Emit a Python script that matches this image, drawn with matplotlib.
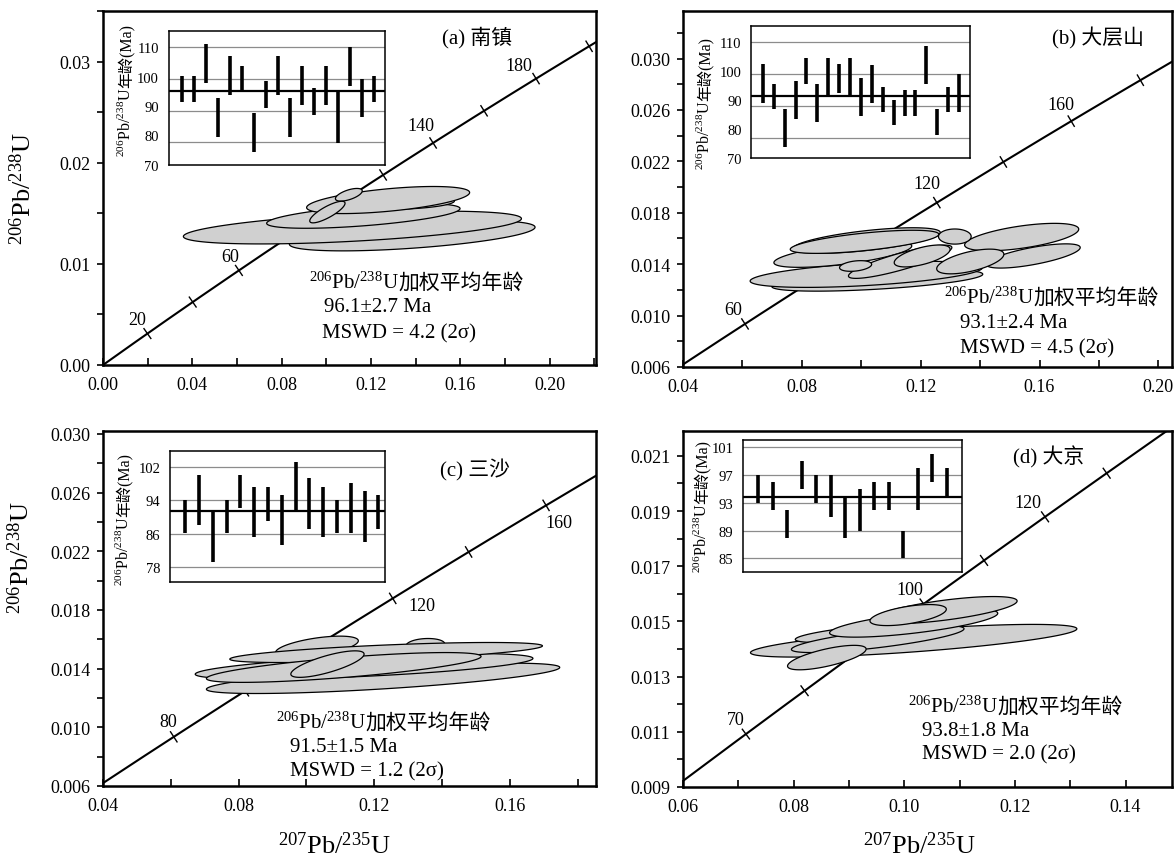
import numpy as np
import matplotlib
matplotlib.use("Agg")
import matplotlib.pyplot as plt
from matplotlib.ticker import MultipleLocator, FormatStrFormatter

plt.rcParams["font.family"] = ["Liberation Serif", "DejaVu Serif", "Noto Sans CJK SC"]
plt.rcParams["mathtext.fontset"] = "custom"
plt.rcParams["mathtext.rm"] = "Liberation Serif"
plt.rcParams["mathtext.it"] = "Liberation Serif:italic"
plt.rcParams["mathtext.bf"] = "Liberation Serif:bold"

# U decay constants (1/yr)
L238 = 1.55125e-10
L235 = 9.8485e-10

R206_238 = r"$^{206}$Pb/$^{238}$U"
R207_235 = r"$^{207}$Pb/$^{235}$U"
WM_SUFFIX = "加权平均年龄"
AGE_SUFFIX = "年龄(Ma)"

# ---------------- (a) 南镇 ----------------
a_name = "(a) 南镇"
a_mean, a_mean_err, a_mswd = 96.1, 2.7, 4.2
a_spot_age = [96.9, 96.9, 104.9, 87.9, 101.0, 100.1, 83.0, 95.0, 101.0, 87.9,
              98.0, 92.9, 98.0, 87.9, 103.9, 94.0, 96.9]
a_spot_err = [4.1, 4.1, 6.2, 6.2, 6.1, 4.1, 6.1, 4.3, 6.1, 6.2,
              6.2, 4.3, 6.2, 8.1, 6.2, 6.1, 4.1]
a_ell_x = [0.1385, 0.1117, 0.1166, 0.1295, 0.1277, 0.1101, 0.1005]
a_ell_y = [0.01278, 0.01359, 0.01474, 0.01611, 0.01631, 0.01683, 0.01512]
a_ell_sx = [0.0550, 0.0757, 0.0433, 0.0279, 0.0365, 0.0060, 0.0079]
a_ell_sy = [0.001496, 0.00162, 0.001221, 0.000745, 0.001339, 0.000626, 0.001066]
a_ell_rho = [0.565, 0.544, 0.596, 0.153, 0.554, 0.606, 0.816]
a_conc_ticks = list(range(20, 240, 20))
a_conc_label_age = [20, 60, 140, 180]
a_conc_label_text = ["20", "60", "140", "180"]

# ---------------- (b) 大层山 ----------------
b_name = "(b) 大层山"
b_mean, b_mean_err, b_mswd = 93.1, 2.4, 4.5
b_spot_age = [96.9, 93.0, 82.9, 91.9, 100.9, 90.9, 98.9, 98.6, 98.9, 92.9,
              96.9, 91.9, 87.9, 90.9, 90.9, 102.9, 84.9, 91.9, 93.9]
b_spot_err = [6.1, 4.0, 6.0, 6.0, 4.1, 6.0, 6.0, 4.6, 6.0, 6.0,
              6.0, 4.0, 4.0, 4.0, 4.0, 6.0, 4.0, 4.0, 6.0]
b_ell_x = [0.1054, 0.1017, 0.0938, 0.1018, 0.1011, 0.1540, 0.1579, 0.1367,
           0.1131, 0.1205, 0.0981, 0.1315]
b_ell_y = [0.01274, 0.01321, 0.01477, 0.01584, 0.01574, 0.01611, 0.01464, 0.01421,
           0.01419, 0.01464, 0.01386, 0.01615]
b_ell_sx = [0.0355, 0.0391, 0.0232, 0.0248, 0.0250, 0.0192, 0.0158, 0.0113,
            0.0174, 0.0094, 0.0054, 0.0055]
b_ell_sy = [0.000838, 0.001015, 0.001015, 0.000995, 0.000899, 0.001067, 0.000942,
            0.000961, 0.001294, 0.000853, 0.000414, 0.000588]
b_ell_rho = [0.575, 0.514, 0.639, 0.628, 0.650, 0.575, 0.695, 0.585,
             0.855, 0.606, 0.312, 0.0]
b_conc_ticks = list(range(20, 240, 20))
b_conc_label_age = [60, 120, 160]
b_conc_label_text = ["60", "120", "160"]

# ---------------- (c) 三沙 ----------------
c_name = "(c) 三沙"
c_mean, c_mean_err, c_mswd = 91.5, 1.5, 1.2
c_spot_age = [90.1, 94.1, 85.2, 90.1, 96.1, 91.2, 93.1, 89.2, 97.1, 93.2,
              91.2, 90.1, 92.1, 90.1, 91.2]
c_spot_err = [4.0, 6.0, 6.0, 4.0, 4.0, 6.0, 4.0, 6.0, 6.0, 6.0,
              6.0, 4.0, 6.0, 6.0, 4.0]
c_ell_x = [0.1031, 0.1351, 0.1226, 0.1170, 0.1235, 0.1110, 0.1062]
c_ell_y = [0.01550, 0.01562, 0.01334, 0.01416, 0.01510, 0.01408, 0.01431]
c_ell_sx = [0.0122, 0.0057, 0.0521, 0.0498, 0.0461, 0.0405, 0.0108]
c_ell_sy = [0.000716, 0.000435, 0.001035, 0.000873, 0.000683, 0.001016, 0.000903]
c_ell_rho = [0.554, 0.137, 0.718, 0.617, 0.661, 0.741, 0.753]
c_conc_ticks = list(range(20, 240, 20))
c_conc_label_age = [60, 120, 160]
c_conc_label_text = ["80", "120", "160"]

# ---------------- (d) 大京 ----------------
d_name = "(d) 大京"
d_mean, d_mean_err, d_mswd = 93.8, 1.8, 2.0
d_spot_age = [95, 94, 90, 97, 95, 94, 91, 92, 94, 94, 87, 95, 98, 96]
d_spot_err = [2, 2, 2, 2, 2, 3, 3, 3, 2, 2, 2, 3, 2, 2]
d_ell_x = [0.1017, 0.0955, 0.0952, 0.1017, 0.1074, 0.0860, 0.1007]
d_ell_y = [0.01430, 0.01462, 0.01436, 0.01494, 0.01541, 0.01369, 0.01523]
d_ell_sx = [0.0295, 0.0152, 0.0156, 0.0152, 0.0130, 0.0071, 0.0069]
d_ell_sy = [0.000592, 0.000387, 0.000488, 0.000510, 0.000491, 0.000443, 0.000381]
d_ell_rho = [0.730, 0.706, 0.766, 0.695, 0.672, 0.695, 0.554]
d_conc_ticks = list(range(50, 160, 10))
d_conc_label_age = [70, 100, 120]
d_conc_label_text = ["70", "100", "120"]


def concordia(age_ma):
    t = np.asarray(age_ma, dtype=float) * 1e6
    return np.expm1(L235 * t), np.expm1(L238 * t)


def ellipse_xy(cx, cy, sx, sy, rho, n=240):
    t = np.linspace(0, 2 * np.pi, n)
    x = cx + sx * np.cos(t)
    y = cy + sy * (rho * np.cos(t) + np.sqrt(1 - rho ** 2) * np.sin(t))
    return x, y


W, H = 1175, 862
fig = plt.figure(figsize=(W / 100, H / 100), dpi=100)


def px_rect(l, t, r, b):
    return [l / W, 1 - b / H, (r - l) / W, (b - t) / H]


def ftext(px, py, s, **kw):
    return fig.text(px / W, 1 - py / H, s, **kw)


panels = [
    dict(name=a_name, mean=a_mean, mean_err=a_mean_err, mswd=a_mswd,
         spot_age=a_spot_age, spot_err=a_spot_err,
         ell=(a_ell_x, a_ell_y, a_ell_sx, a_ell_sy, a_ell_rho),
         conc_ticks=a_conc_ticks, lab_age=a_conc_label_age, lab_text=a_conc_label_text,
         lab_off=[(-10, 14), (-9, 14), (-12, 17), (-17, 13)],
         box=(103, 12, 596, 366), xlim=(0.0, 0.2208), ylim=(0.0, 0.0350),
         xstep=(0.04, 0.02, 0.0), ystep=(0.01, 0.005, 0.0), xfmt="%.2f", yfmt="%.2f",
         inset=(168.7, 32.3, 385.4, 165.7), ixlim=(-0.12, 17.93), iylim=(72.96, 115.0),
         grid=[80, 90, 100, 110], ilabels=["110", "100", "90", "80", "70"],
         title_pos=(477, 38), text_pos=[(309, 289), (324, 312), (322, 338)],
         ilab_pos=(131, 157)),
    dict(name=b_name, mean=b_mean, mean_err=b_mean_err, mswd=b_mswd,
         spot_age=b_spot_age, spot_err=b_spot_err,
         ell=(b_ell_x, b_ell_y, b_ell_sx, b_ell_sy, b_ell_rho),
         conc_ticks=b_conc_ticks, lab_age=b_conc_label_age, lab_text=b_conc_label_text,
         lab_off=[(-12, 14), (-10, 19), (-10, 17)],
         box=(683, 12, 1172, 368), xlim=(0.04, 0.2046), ylim=(0.006, 0.0337),
         xstep=(0.04, 0.02, 0.0), ystep=(0.004, 0.002, 0.002), xfmt="%.2f", yfmt="%.3f",
         inset=(751.4, 27.3, 970.0, 159.3), ixlim=(-0.05, 20.0), iylim=(73.5, 115.0),
         grid=[80, 90, 100, 110], ilabels=["110", "100", "90", "80", "70"],
         title_pos=(1097.6, 38), text_pos=[(943.5, 304), (959.6, 328), (959.6, 353)],
         ilab_pos=(710, 170)),
    dict(name=c_name, mean=c_mean, mean_err=c_mean_err, mswd=c_mswd,
         spot_age=c_spot_age, spot_err=c_spot_err,
         ell=(c_ell_x, c_ell_y, c_ell_sx, c_ell_sy, c_ell_rho),
         conc_ticks=c_conc_ticks, lab_age=c_conc_label_age, lab_text=c_conc_label_text,
         lab_off=[(-6, 15), (29, -7), (13, -17)],
         box=(103, 432, 596, 787), xlim=(0.04, 0.1854), ylim=(0.006, 0.0302),
         xstep=(0.04, 0.02, 0.0), ystep=(0.004, 0.002, 0.002), xfmt="%.2f", yfmt="%.3f",
         inset=(169.9, 451.7, 385.4, 583.3), ixlim=(-0.11, 15.5), iylim=(74.4, 105.8),
         grid=[78, 86, 94, 102], ilabels=["102", "94", "86", "78"],
         title_pos=(475.5, 470), text_pos=[(276, 729), (289.5, 752), (289.5, 776)],
         ilab_pos=(129, 586)),
    dict(name=d_name, mean=d_mean, mean_err=d_mean_err, mswd=d_mswd,
         spot_age=d_spot_age, spot_err=d_spot_err,
         ell=(d_ell_x, d_ell_y, d_ell_sx, d_ell_sy, d_ell_rho),
         conc_ticks=d_conc_ticks, lab_age=d_conc_label_age, lab_text=d_conc_label_text,
         lab_off=[(-10, 15), (-14, 14), (-17, 14)],
         box=(683, 432, 1172, 788), xlim=(0.06, 0.1484), ylim=(0.009, 0.0219),
         xstep=(0.02, 0.01, 0.0), ystep=(0.002, 0.001, 0.001), xfmt="%.2f", yfmt="%.3f",
         inset=(743.0, 440.7, 961.5, 573.3), ixlim=(-0.05, 15.0), iylim=(83.0, 102.1),
         grid=[85, 89, 93, 97, 101], ilabels=["101", "97", "93", "89", "85"],
         title_pos=(1048.6, 457), text_pos=[(907.8, 713), (922.4, 736), (922.4, 759)],
         ilab_pos=(707, 573)),
]

for p in panels:
    ax = fig.add_axes(px_rect(*p["box"]))
    x0, x1 = p["xlim"]
    y0, y1 = p["ylim"]
    ax.set_xlim(x0, x1)
    ax.set_ylim(y0, y1)
    ax.xaxis.set_major_locator(MultipleLocator(p["xstep"][0], offset=p["xstep"][2]))
    ax.xaxis.set_minor_locator(MultipleLocator(p["xstep"][1]))
    ax.yaxis.set_major_locator(MultipleLocator(p["ystep"][0], offset=p["ystep"][2]))
    ax.yaxis.set_minor_locator(MultipleLocator(p["ystep"][1]))
    ax.xaxis.set_major_formatter(FormatStrFormatter(p["xfmt"]))
    ax.yaxis.set_major_formatter(FormatStrFormatter(p["yfmt"]))
    ax.tick_params(axis="x", which="both", direction="in", length=5, width=1.2,
                   pad=8, labelsize=13)
    ax.tick_params(axis="y", which="both", direction="out", length=4, width=1.2,
                   pad=5, labelsize=13)
    for s in ax.spines.values():
        s.set_linewidth(1.8)

    # concordia curve
    ages = np.linspace(0, 260, 1500)
    cxs, cys = concordia(ages)
    ax.plot(cxs, cys, color="k", lw=1.5, zorder=2)

    # age ticks across the curve
    inv = ax.transData.inverted()
    for age in p["conc_ticks"]:
        x, y = concordia(age)
        if not (x0 + 0.02 * (x1 - x0) < x < x1 - 0.01 * (x1 - x0)
                and y0 + 0.02 * (y1 - y0) < y < y1 - 0.01 * (y1 - y0)):
            continue
        pa = ax.transData.transform((x, y))
        pb = ax.transData.transform(concordia(age + 1.0))
        d = (pb - pa) / np.hypot(*(pb - pa))
        nrm = np.array([-d[1], d[0]])
        seg = inv.transform(np.vstack([pa + 6 * nrm, pa - 6 * nrm]))
        ax.plot(seg[:, 0], seg[:, 1], color="k", lw=1.0, zorder=2)

    for age, txt, off in zip(p["lab_age"], p["lab_text"], p["lab_off"]):
        xy = tuple(float(v) for v in concordia(age))
        ax.annotate(txt, xy, xytext=off, textcoords="offset pixels",
                    ha="center", va="center", fontsize=13, zorder=4)

    # error ellipses
    for ecx, ecy, esx, esy, erho in zip(*p["ell"]):
        ex, ey = ellipse_xy(ecx, ecy, esx, esy, erho)
        ax.fill(ex, ey, facecolor="#d0d0d0", edgecolor="k", lw=0.9, zorder=3)

    # weighted-mean inset
    ins = fig.add_axes(px_rect(*p["inset"]), zorder=5)
    ins.set_facecolor("white")
    ins.set_xlim(*p["ixlim"])
    ins.set_ylim(*p["iylim"])
    for g in p["grid"]:
        ins.axhline(g, color="#8c8c8c", lw=0.9, zorder=1)
    ins.axhline(p["mean"], color="k", lw=1.6, zorder=2)
    xs = np.arange(1, len(p["spot_age"]) + 1)
    sa = np.array(p["spot_age"])
    se = np.array(p["spot_err"])
    ins.vlines(xs, sa - se, sa + se, color="k", lw=2.6, zorder=3)
    ins.set_xticks([])
    if len(p["ilabels"]) == len(p["grid"]):
        tick_pos = sorted(p["grid"], reverse=True)
    else:
        tick_pos = np.linspace(max(p["grid"]), p["iylim"][0], len(p["ilabels"]))
    ins.set_yticks(tick_pos, p["ilabels"])
    ins.tick_params(axis="y", length=0, pad=7, labelsize=10.5)
    for s in ins.spines.values():
        s.set_linewidth(1.1)

    # annotations
    tx, ty = p["title_pos"]
    ftext(tx, ty, p["name"], ha="center", va="center", fontsize=15)
    (l1x, l1y), (l2x, l2y), (l3x, l3y) = p["text_pos"]
    head = ftext(l1x, l1y, R206_238, ha="left", va="baseline", fontsize=15)
    ax.annotate(WM_SUFFIX, xy=(1.0, 1 - l1y / H), xycoords=(head, "figure fraction"),
                ha="left", va="baseline", fontsize=15, annotation_clip=False)
    ftext(l2x, l2y, f"{p['mean']:.1f}\u00b1{p['mean_err']:.1f} Ma",
          ha="left", va="baseline", fontsize=15)
    ftext(l3x, l3y, f"MSWD = {p['mswd']:.1f} (2\u03c3)",
          ha="left", va="baseline", fontsize=15)

    bx, by = p["ilab_pos"]
    ylab = ftext(bx, by, R206_238, rotation=90, rotation_mode="anchor",
                 ha="left", va="baseline", fontsize=11.5)
    ins.annotate(AGE_SUFFIX, xy=(bx / W, 1.0), xycoords=("figure fraction", ylab),
                 rotation=90, rotation_mode="anchor", ha="left", va="baseline",
                 fontsize=11.5, annotation_clip=False)

# axis titles
ftext(23, 189, R206_238, rotation=90, ha="center", va="center", fontsize=19)
ftext(21, 558, R206_238, rotation=90, ha="center", va="center", fontsize=19)
ftext(334, 846, R207_235, ha="center", va="center", fontsize=19)
ftext(919, 846, R207_235, ha="center", va="center", fontsize=19)

fig.savefig("out.png", dpi=100)
